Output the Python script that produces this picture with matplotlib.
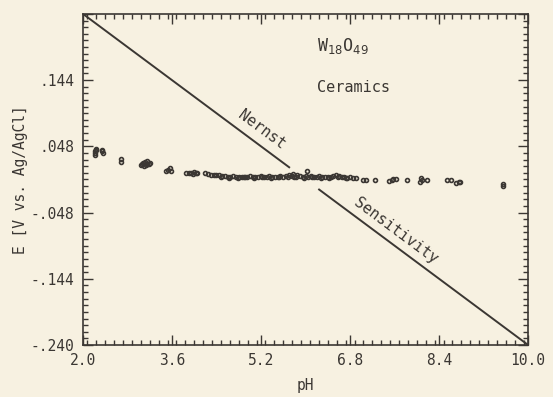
import matplotlib
matplotlib.use("Agg")
import matplotlib.pyplot as plt
from matplotlib.ticker import MultipleLocator, FixedLocator

# ---- data ----
ph = [2.21, 2.22, 2.23, 2.24, 2.22, 2.34, 2.35, 2.36,
      2.68, 2.68,
      3.05, 3.08, 3.12, 3.15, 3.18, 3.10, 3.13, 3.20, 3.16, 3.07,
      3.50, 3.53, 3.56, 3.58,
      3.85, 3.90, 3.95, 4.00, 4.03, 4.05, 3.98,
      4.20, 4.25, 4.30, 4.35, 4.40,
      4.45, 4.50, 4.55, 4.60, 4.65, 4.70, 4.75, 4.80, 4.85, 4.90,
      4.95, 5.00, 5.05, 5.10, 5.15, 5.20, 5.25, 5.30, 5.35, 5.40,
      5.45, 5.50, 5.55, 5.60, 5.65, 5.70, 5.75, 5.80, 5.85, 5.90,
      5.95, 6.00, 6.05, 6.10, 6.15, 6.20, 6.25, 6.30, 6.35, 6.40,
      6.45, 6.50, 6.55, 6.60, 6.65, 6.70, 6.75, 6.80, 6.85, 6.90,
      4.48, 4.62, 4.78, 4.92, 5.08, 5.22, 5.38, 5.52, 5.68, 5.82,
      5.97, 6.12, 6.28, 6.42, 6.58, 6.72, 6.02, 5.78,
      7.03, 7.08, 7.25, 7.50, 7.55, 7.58, 7.62, 7.82, 8.05, 8.07,
      8.10, 8.18, 8.55, 8.62, 8.70, 8.75, 8.78, 9.55, 9.55]
e = [0.036, 0.039, 0.042, 0.044, 0.041, 0.041, 0.043, 0.039,
     0.029, 0.026,
     0.021, 0.024, 0.026, 0.023, 0.022, 0.020, 0.021, 0.024, 0.027, 0.022,
     0.012, 0.013, 0.016, 0.012,
     0.009, 0.010, 0.009, 0.011, 0.010, 0.009, 0.008,
     0.009, 0.008, 0.007, 0.007, 0.006,
     0.006, 0.005, 0.005, 0.004, 0.004, 0.005, 0.004, 0.004, 0.003, 0.004,
     0.004, 0.005, 0.004, 0.003, 0.004, 0.005, 0.004, 0.004, 0.005, 0.003,
     0.004, 0.004, 0.005, 0.004, 0.005, 0.006, 0.005, 0.004, 0.006, 0.005,
     0.004, 0.005, 0.004, 0.005, 0.003, 0.004, 0.005, 0.004, 0.004, 0.003,
     0.004, 0.005, 0.006, 0.005, 0.004, 0.003, 0.002, 0.003, 0.002, 0.002,
     0.003, 0.002, 0.002, 0.003, 0.002, 0.003, 0.002, 0.003, 0.004, 0.003,
     0.002, 0.003, 0.002, 0.002, 0.003, 0.002, 0.012, 0.008,
     -0.001, -0.001, -0.001, -0.002, -0.001, 0.001, 0.000, -0.001, -0.003, 0.002,
     -0.001, -0.001, -0.001, -0.001, -0.005, -0.004, -0.004, -0.006, -0.009]

nernst_ph = [2.0, 10.0]
nernst_e = [0.240, -0.240]
gap_ph = [5.72, 6.23]  # where the line is interrupted by the data band

x_ticks = [2.0, 3.6, 5.2, 6.8, 8.4, 10.0]
x_labels = ["2.0", "3.6", "5.2", "6.8", "8.4", "10.0"]
y_ticks = [-0.240, -0.144, -0.048, 0.048, 0.144]
y_labels = ["-.240", "-.144", "-.048", ".048", ".144"]

bg = "#f7f1e1"
ink = "#3b3733"
mono = "DejaVu Sans Mono"

fig = plt.figure(figsize=(5.53, 3.97), dpi=100, facecolor=bg)
ax = fig.add_axes([0.150, 0.131, 0.805, 0.834], facecolor=bg)

# Nernst line, split around the data band
slope = (nernst_e[1] - nernst_e[0]) / (nernst_ph[1] - nernst_ph[0])
def line_e(x):
    return nernst_e[0] + slope * (x - nernst_ph[0])
ax.plot([nernst_ph[0], gap_ph[0]], [nernst_e[0], line_e(gap_ph[0])],
        color=ink, lw=1.4, solid_capstyle="butt")
ax.plot([gap_ph[1], nernst_ph[1]], [line_e(gap_ph[1]), nernst_e[1]],
        color=ink, lw=1.4, solid_capstyle="butt")

ax.plot(ph, e, linestyle="none", marker="o", ms=2.8, mfc="none",
        mec=ink, mew=1.2)

ax.set_xlim(2.0, 10.0)
ax.set_ylim(-0.240, 0.240)
ax.xaxis.set_major_locator(FixedLocator(x_ticks))
ax.set_xticklabels(x_labels)
ax.xaxis.set_minor_locator(MultipleLocator(0.16))
ax.yaxis.set_major_locator(FixedLocator(y_ticks + [0.240]))
ax.set_yticklabels(y_labels + [""])
ax.yaxis.set_minor_locator(MultipleLocator(0.0096))

ax.tick_params(which="both", direction="in", top=True, right=True,
               color=ink, width=1.0)
ax.tick_params(which="major", length=7, labelsize=10.5, labelcolor=ink, pad=6)
ax.tick_params(which="minor", length=3.5)
for lab in ax.get_xticklabels() + ax.get_yticklabels():
    lab.set_fontfamily(mono)
for s in ax.spines.values():
    s.set_color(ink)
    s.set_linewidth(1.2)

ax.set_xlabel("pH", fontfamily=mono, fontsize=10.5, color=ink, labelpad=7)
ax.set_ylabel("E [V vs. Ag/AgCl]", fontfamily=mono, fontsize=10.5,
              color=ink, labelpad=2)

ang = -36.6
ax.text(5.22, 0.072, "Nernst", rotation=ang, rotation_mode="anchor",
        ha="center", va="center", fontfamily=mono, fontsize=11, color=ink)
ax.text(7.62, -0.074, "Sensitivity", rotation=ang, rotation_mode="anchor",
        ha="center", va="center", fontfamily=mono, fontsize=11, color=ink)
ax.text(6.2, 0.193, r"W$_{18}$O$_{49}$", ha="left", va="center",
        fontfamily=mono, fontsize=12, color=ink)
ax.text(6.2, 0.133, "Ceramics", ha="left", va="center",
        fontfamily=mono, fontsize=11, color=ink)

fig.savefig("out.png", dpi=100, facecolor=bg)
